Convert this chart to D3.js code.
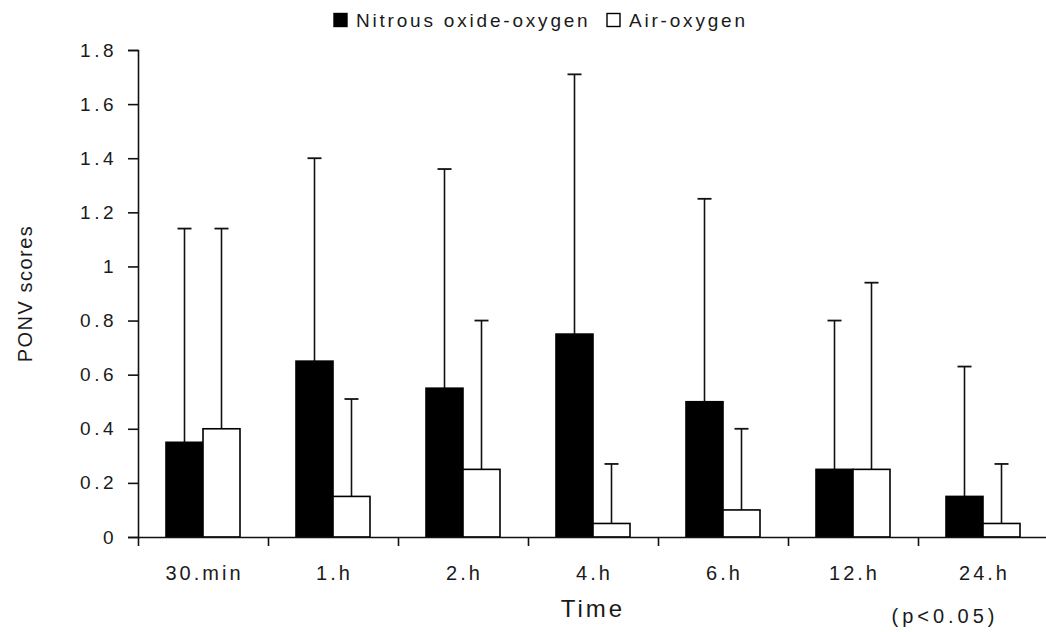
<!DOCTYPE html>
<html>
<head>
<meta charset="utf-8">
<script src="https://cdn.jsdelivr.net/npm/d3@7"></script>
<style>
  html, body { margin: 0; padding: 0; background: #fff; }
  svg { display: block; }
  text { font-family: "Liberation Sans", Arial, sans-serif; fill: #1a1a1a; }
</style>
</head>
<body>
<svg id="chart" width="1046" height="632"></svg>
<script>
// ---- data ----
const categories = ["30.min", "1.h", "2.h", "4.h", "6.h", "12.h", "24.h"];
const seriesNames = ["Nitrous oxide-oxygen", "Air-oxygen"];
const nitrousMean = [0.35, 0.65, 0.55, 0.75, 0.50, 0.25, 0.15];
const nitrousSD   = [0.79, 0.75, 0.81, 0.96, 0.75, 0.55, 0.48];
const airMean     = [0.40, 0.15, 0.25, 0.05, 0.10, 0.25, 0.05];
const airSD       = [0.74, 0.36, 0.55, 0.22, 0.30, 0.69, 0.22];
const yTickValues = [0, 0.2, 0.4, 0.6, 0.8, 1, 1.2, 1.4, 1.6, 1.8];
const yTickLabels = ["0", "0.2", "0.4", "0.6", "0.8", "1", "1.2", "1.4", "1.6", "1.8"];
const xTitle = "Time";
const yTitle = "PONV scores";
const note = "(p<0.05)";

const series = [
  { name: seriesNames[0], mean: nitrousMean, sd: nitrousSD, fill: "#000" },
  { name: seriesNames[1], mean: airMean, sd: airSD, fill: "#fff" }
];

const svg = d3.select("#chart");
const plotLeft = 138, plotRight = 1048, plotTop = 50, plotBottom = 537;

const x0 = d3.scaleBand().domain(categories).range([plotLeft, plotRight]).padding(0);
const groupW = 74;
const x1 = d3.scaleBand().domain(seriesNames).range([0, groupW]).padding(0);
const y = d3.scaleLinear().domain([0, 1.8]).range([plotBottom, plotTop]);
const xb = d3.scaleLinear().domain([0, categories.length]).range([plotLeft, plotRight]);

// bars
const groups = svg.append("g").selectAll("g")
  .data(categories)
  .join("g")
  .attr("transform", c => `translate(${x0(c) + (x0.bandwidth() - groupW) / 2},0)`);

series.forEach(s => {
  const cx = x1(s.name) + x1.bandwidth() / 2;
  groups.append("line")
    .attr("x1", cx).attr("x2", cx)
    .attr("y1", (c, i) => y(s.mean[i]))
    .attr("y2", (c, i) => y(s.mean[i] + s.sd[i]))
    .attr("stroke", "#111").attr("stroke-width", 1.6);
  groups.append("line")
    .attr("x1", cx - 7).attr("x2", cx + 7)
    .attr("y1", (c, i) => y(s.mean[i] + s.sd[i]))
    .attr("y2", (c, i) => y(s.mean[i] + s.sd[i]))
    .attr("stroke", "#111").attr("stroke-width", 1.8);
  groups.append("rect")
    .attr("x", x1(s.name))
    .attr("width", x1.bandwidth())
    .attr("y", (c, i) => y(s.mean[i]))
    .attr("height", (c, i) => y(0) - y(s.mean[i]))
    .attr("fill", s.fill)
    .attr("stroke", "#000").attr("stroke-width", 1.6);
});

// y axis
const yAxis = svg.append("g")
  .attr("transform", `translate(${plotLeft},0)`)
  .call(d3.axisLeft(y).tickValues(yTickValues)
    .tickFormat((d, i) => yTickLabels[i]).tickSize(10).tickPadding(11));
yAxis.select(".domain").attr("stroke", "#111").attr("stroke-width", 1.6);
yAxis.selectAll(".tick line").attr("stroke", "#111").attr("stroke-width", 1.6);
yAxis.selectAll("text").style("font-family", '"Liberation Sans", Arial, sans-serif')
  .style("font-size", "19px").style("letter-spacing", "3.5px").attr("fill", "#1a1a1a");

// x axis: boundary ticks
const xAxis = svg.append("g")
  .attr("transform", `translate(0,${plotBottom})`)
  .call(d3.axisBottom(xb).tickValues(d3.range(categories.length + 1))
    .tickFormat("").tickSize(9).tickSizeOuter(0));
xAxis.select(".domain").attr("stroke", "#111").attr("stroke-width", 1.6);
xAxis.selectAll(".tick line").attr("stroke", "#111").attr("stroke-width", 1.6);

// x labels
const xLab = svg.append("g")
  .attr("transform", `translate(0,${plotBottom})`)
  .call(d3.axisBottom(x0).tickSize(0).tickPadding(29));
xLab.select(".domain").remove();
xLab.selectAll("text").style("font-family", '"Liberation Sans", Arial, sans-serif')
  .style("font-size", "20px").style("letter-spacing", "3px").attr("fill", "#1a1a1a")
  .attr("dx", "1.5px");

// titles
svg.append("text")
  .attr("x", 593).attr("y", 617)
  .attr("text-anchor", "middle")
  .style("font-size", "24px").style("letter-spacing", "3px")
  .text(xTitle);

svg.append("text")
  .attr("transform", `translate(32,${(plotTop + plotBottom) / 2}) rotate(-90)`)
  .attr("text-anchor", "middle")
  .style("font-size", "20px").style("letter-spacing", "1.5px")
  .text(yTitle);

svg.append("text")
  .attr("x", 945).attr("y", 623)
  .attr("text-anchor", "middle")
  .style("font-size", "20px").style("letter-spacing", "4px")
  .text(note);

// legend
const legend = svg.append("g");
const legendItems = [
  { name: seriesNames[0], fill: "#000", x: 334 },
  { name: seriesNames[1], fill: "#fff", x: 607 }
];
legendItems.forEach(d => {
  legend.append("rect")
    .attr("x", d.x).attr("y", 13.5).attr("width", 13).attr("height", 13)
    .attr("fill", d.fill).attr("stroke", "#000").attr("stroke-width", 1.4);
  legend.append("text")
    .attr("x", d.x + 22).attr("y", 27)
    .style("font-size", "19px").style("letter-spacing", "2.8px")
    .text(d.name);
});
</script>
</body>
</html>
